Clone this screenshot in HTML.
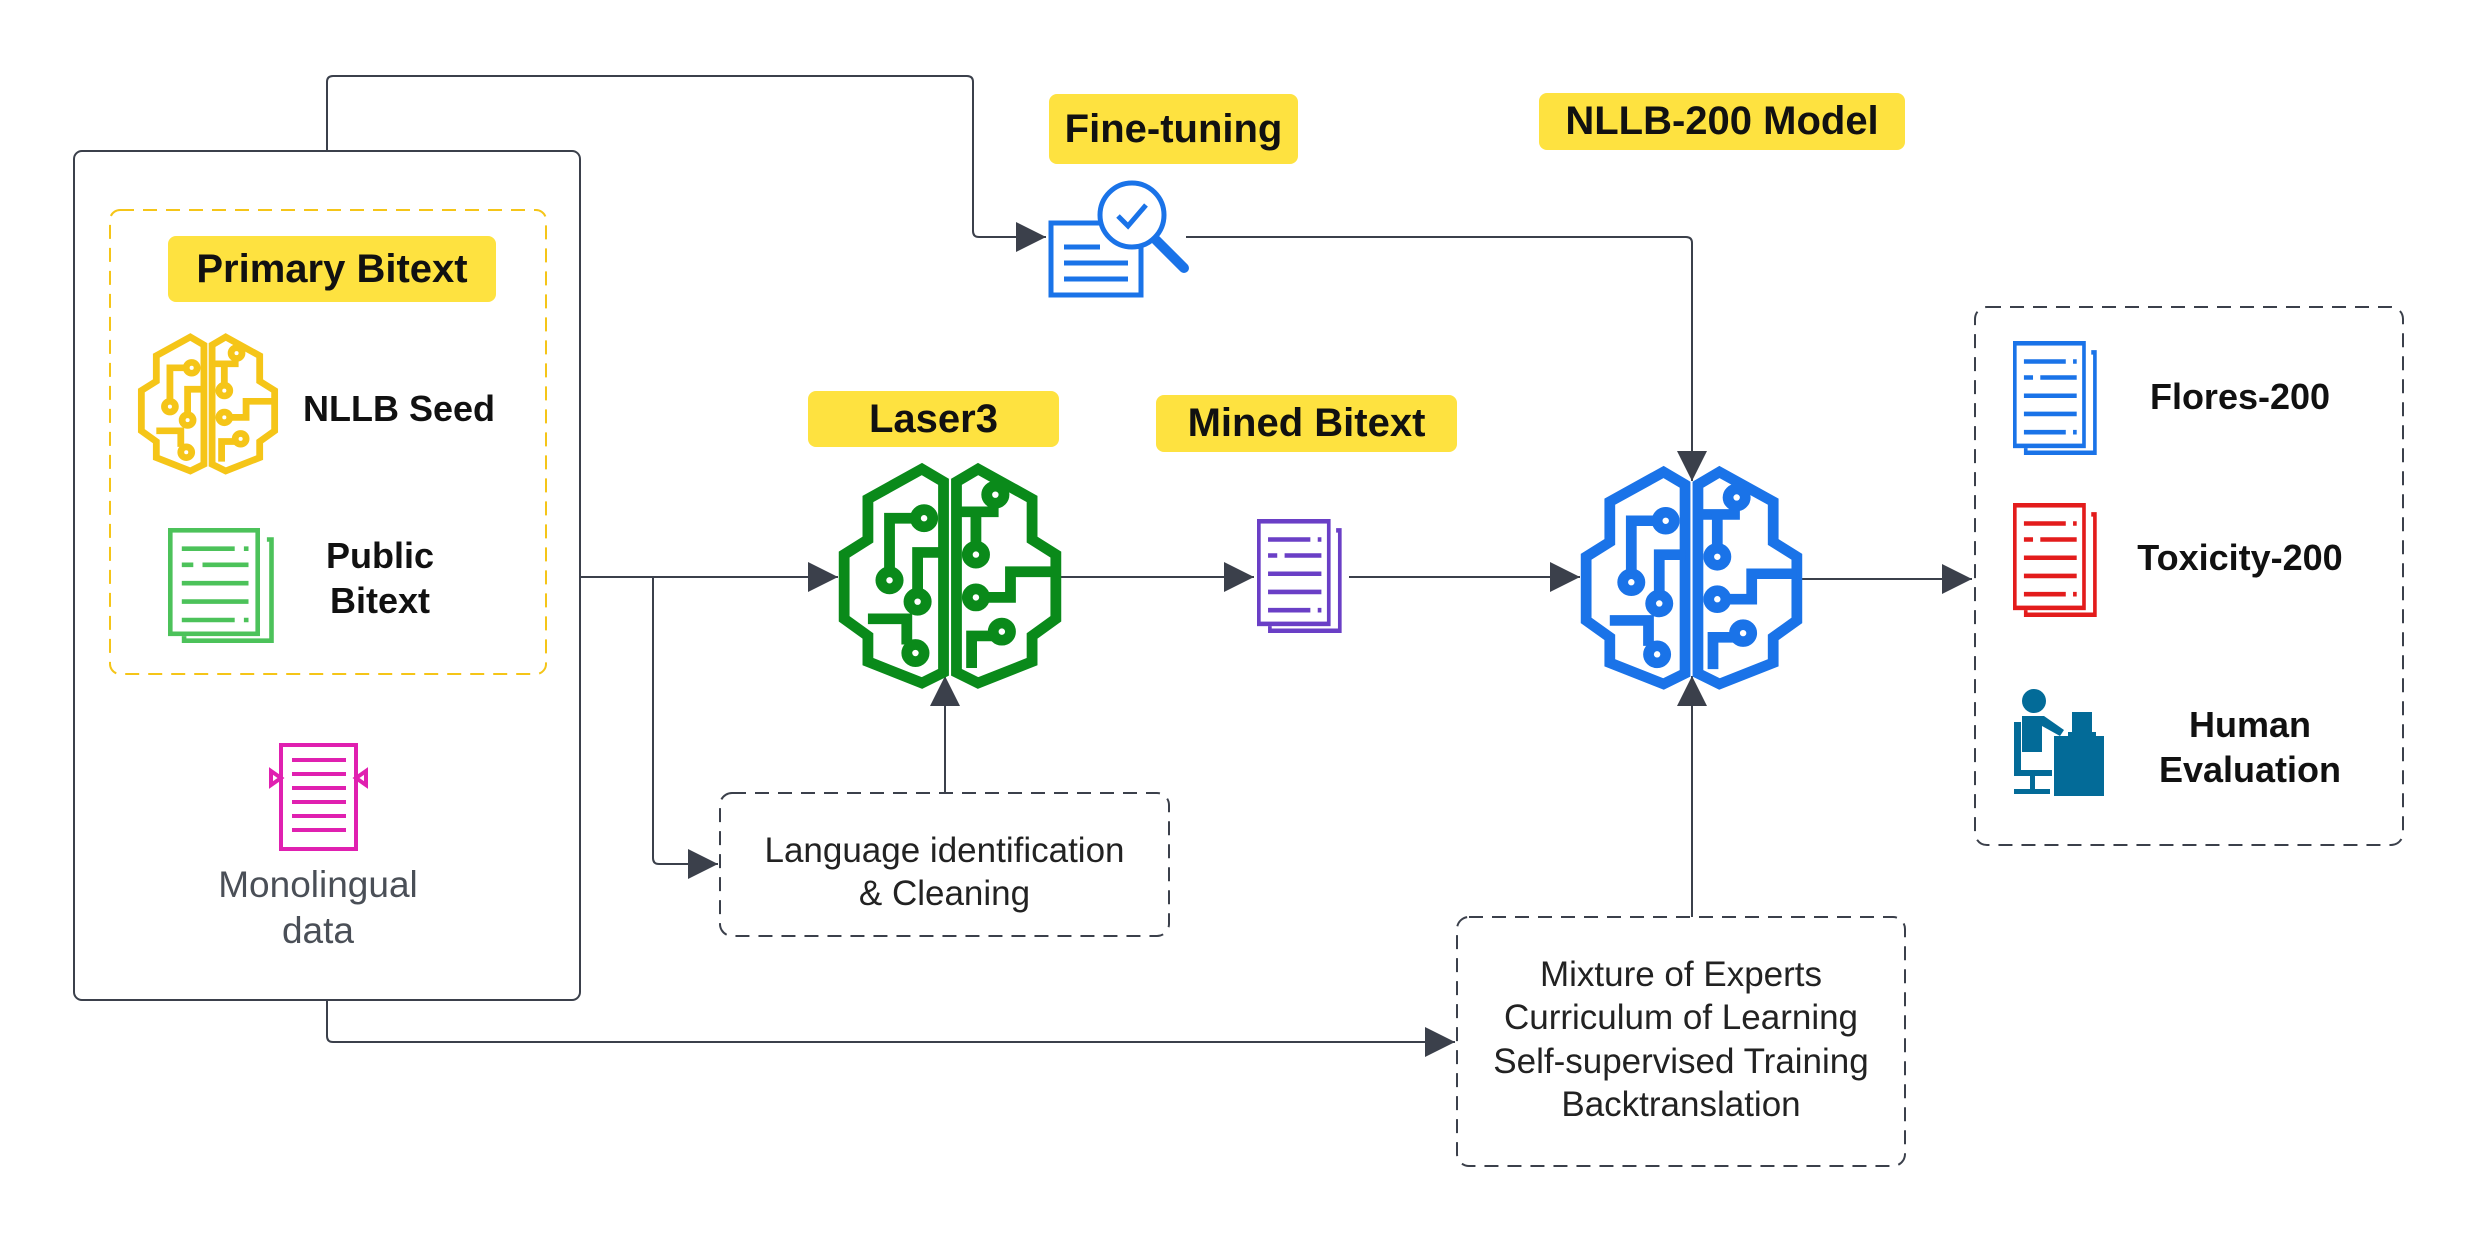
<!DOCTYPE html>
<html><head><meta charset="utf-8"><style>
html,body{margin:0;padding:0;background:#fff;}
#c{position:relative;width:2475px;height:1243px;overflow:hidden;font-family:"Liberation Sans",Arial,sans-serif;}
.lab{position:absolute;background:#fee240;border-radius:8px;font-weight:bold;font-size:40px;color:#111;display:flex;align-items:center;justify-content:center;}
.t{position:absolute;text-align:center;line-height:1.25;}
.b{font-weight:bold;font-size:36px;color:#111;}
.r{font-size:35px;color:#222;}
</style></head><body><div id="c">
<svg width="2475" height="1243" style="position:absolute;left:0;top:0">
<defs>
<marker id="a" viewBox="0 0 10 10" refX="10" refY="5" markerWidth="30" markerHeight="30" markerUnits="userSpaceOnUse" orient="auto"><path d="M0,0L10,5L0,10Z" fill="#3b404b"/></marker>
<g id="brain" fill="none" stroke-width="5" stroke-linejoin="miter">
<path d="M47,6 L37,0 L12,14 L12,33 L1,40 L1,70 L12,78 L12,90 L37,100 L47,95 Z"/>
<path d="M53,6 L63,0 L88,14 L88,33 L99,40 L99,70 L88,78 L88,90 L63,100 L53,95 Z"/>
<path d="M22,48 L22,23 L34,23"/><circle cx="38" cy="23" r="4"/><circle cx="22" cy="52" r="4"/>
<path d="M30,82 L30,70 L12,70"/><circle cx="34" cy="86" r="4"/>
<path d="M47,39 L35,39 L35,58"/><circle cx="35" cy="62" r="4"/>
<path d="M53,20 L70,20 L70,16"/><circle cx="71" cy="12" r="4"/>
<path d="M62,20 L62,36"/><circle cx="62" cy="40" r="4"/>
<path d="M66,60 L78,60 L78,48 L99,48"/><circle cx="62" cy="60" r="4"/>
<path d="M60,93 L60,78 L70,78"/><circle cx="74" cy="76" r="4"/>
</g>
<g id="doc" fill="none" stroke-width="4">
<rect x="2" y="2" width="76" height="90"/>
<path d="M86,10 L90,10 L90,98 L14,98 L14,94"/>
<path d="M12,18 H58 M66,18 H70 M12,32 H22 M30,32 H70 M12,48 H70 M12,64 H70 M12,80 H58 M66,80 H70"/>
</g>
</defs>
<g fill="none" stroke="#3b404b" stroke-width="2">
<rect x="74" y="151" width="506" height="849" rx="8"/>
<rect x="110" y="210" width="436" height="464" rx="10" stroke="#f5c518" stroke-dasharray="14 9"/>
<rect x="720" y="793" width="449" height="143" rx="12" stroke-dasharray="14 9"/>
<rect x="1457" y="917" width="448" height="249" rx="12" stroke-dasharray="14 9"/>
<rect x="1975" y="307" width="428" height="538" rx="12" stroke-dasharray="14 9"/>
<path d="M327,151 V82 Q327,76 333,76 H967 Q973,76 973,82 V231 Q973,237 979,237 H1046" marker-end="url(#a)"/>
<path d="M1186,237 H1686 Q1692,237 1692,243 V481" marker-end="url(#a)"/>
<path d="M580,577 H838" marker-end="url(#a)"/>
<path d="M653,577 V858 Q653,864 659,864 H718" marker-end="url(#a)"/>
<path d="M945,793 V676" marker-end="url(#a)"/>
<path d="M1060,577 H1254" marker-end="url(#a)"/>
<path d="M1349,577 H1580" marker-end="url(#a)"/>
<path d="M1801,579 H1972" marker-end="url(#a)"/>
<path d="M1692,917 V676" marker-end="url(#a)"/>
<path d="M327,1000 V1036 Q327,1042 333,1042 H1455" marker-end="url(#a)"/>
</g>
<use href="#brain" transform="translate(140,337) scale(1.36,1.34)" stroke="#f5c518"/>
<use href="#brain" transform="translate(842,469) scale(2.16,2.14)" stroke="#0a8a1a"/>
<use href="#brain" transform="translate(1584,472) scale(2.15,2.12)" stroke="#1a73e8"/>
<use href="#doc" transform="translate(168,528) scale(1.15,1.15)" stroke="#4cc25a"/>
<use href="#doc" transform="translate(1257,519) scale(0.92,1.14)" stroke="#6a3fc6"/>
<use href="#doc" transform="translate(2013,341) scale(0.91,1.14)" stroke="#1a73e8"/>
<use href="#doc" transform="translate(2013,503) scale(0.91,1.14)" stroke="#e31c1c"/>
<g fill="none" stroke="#1a73e8" stroke-width="5">
<rect x="1051" y="223" width="90" height="72"/>
<path d="M1064,247 H1100 M1064,263 H1128 M1064,279 H1128"/>
<circle cx="1132" cy="215" r="32" fill="#fff"/>
<path d="M1118,216 L1128,226 L1146,205"/>
<path d="M1156,240 L1184,268" stroke-width="10" stroke-linecap="round"/>
</g>
<g fill="none" stroke="#e020b0" stroke-width="4">
<rect x="281" y="745" width="75" height="104"/>
<path d="M292,760 H346 M292,774 H346 M292,788 H346 M292,802 H346 M292,816 H346 M292,830 H346"/>
<path d="M271,771 L281,778 L271,785 Z M366,771 L356,778 L366,785 Z"/>
</g>
<g fill="#036b98">
<circle cx="2034" cy="701" r="12"/>
<path d="M2022,716 h22 l20,14 l-4,6 l-18,-10 v26 h-20 z"/>
<rect x="2014" y="722" width="7" height="52"/>
<rect x="2014" y="770" width="38" height="6"/>
<rect x="2030" y="776" width="5" height="15"/>
<rect x="2014" y="789" width="36" height="5"/>
<rect x="2054" y="736" width="50" height="60"/>
<rect x="2072" y="712" width="20" height="20"/>
<rect x="2068" y="732" width="28" height="4"/>
</g>
</svg>
<div class="lab" style="left:1049px;top:94px;width:249px;height:70px">Fine-tuning</div>
<div class="lab" style="left:1539px;top:93px;width:366px;height:57px">NLLB-200 Model</div>
<div class="lab" style="left:168px;top:236px;width:328px;height:66px">Primary Bitext</div>
<div class="lab" style="left:808px;top:391px;width:251px;height:56px">Laser3</div>
<div class="lab" style="left:1156px;top:395px;width:301px;height:57px">Mined Bitext</div>
<div class="t b" style="left:303px;top:386px;width:240px;text-align:left">NLLB Seed</div>
<div class="t b" style="left:280px;top:533px;width:200px">Public<br>Bitext</div>
<div class="t r" style="left:168px;top:862px;width:300px;font-size:37px;color:#4a4f57">Monolingual<br>data</div>
<div class="t r" style="left:720px;top:829px;width:449px;line-height:1.24">Language identification<br>&amp; Cleaning</div>
<div class="t r" style="left:1457px;top:953px;width:448px;line-height:1.24">Mixture of Experts<br>Curriculum of Learning<br>Self-supervised Training<br>Backtranslation</div>
<div class="t b" style="left:2120px;top:374px;width:240px">Flores-200</div>
<div class="t b" style="left:2110px;top:535px;width:260px">Toxicity-200</div>
<div class="t b" style="left:2130px;top:702px;width:240px">Human<br>Evaluation</div>
</div></body></html>
